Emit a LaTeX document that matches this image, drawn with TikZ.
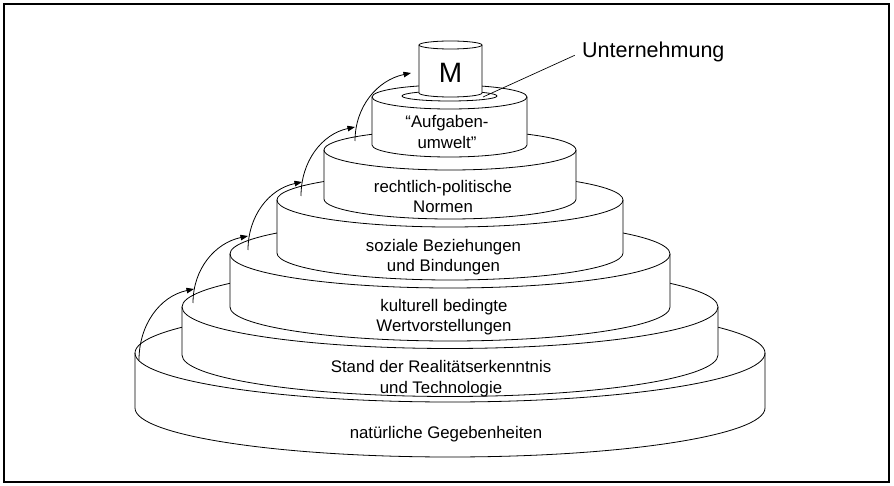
\documentclass[tikz,border=0pt]{standalone}
\usepackage{fontspec}
\setmainfont{Liberation Sans}
\usetikzlibrary{arrows.meta}

% one stacked disc: centre x, top level, bottom level, half width, half depth
\newcommand\disc[5]{%
  \fill[white] (#1-#4,#2) -- (#1-#4,#3)
    arc[start angle=180,end angle=360,x radius=#4pt,y radius=#5pt]
    -- (#1+#4,#2)
    arc[start angle=0,end angle=180,x radius=#4pt,y radius=#5pt] -- cycle;
  \draw[rim] (#1-#4,#2) -- (#1-#4,#3)
    arc[start angle=180,end angle=360,x radius=#4pt,y radius=#5pt]
    -- (#1+#4,#2);
  \draw[rim] (#1,#2) ellipse[x radius=#4pt,y radius=#5pt];
}

\begin{document}
\begin{tikzpicture}[x=1pt,y=-1pt,
  rim/.style={line width=0.8pt,line join=round},
  label/.style={inner sep=0pt,align=center,font=\fontsize{16.8}{20.5}\selectfont},
  climb/.style={line width=0.8pt,-{Triangle[length=7.5pt,width=5.5pt]}},
  frame/.style={line width=1.3pt}]
\useasboundingbox (0,0) rectangle (894,486);
\draw[frame] (4,4) rectangle (889,482);

% discs, from the widest at the bottom upwards
\disc{450}{353}{408}{315}{49}
\disc{450}{307}{355}{268}{41.5}
\disc{450}{254}{307}{220}{34}
\disc{450}{200}{253}{173}{27}
\disc{450}{150}{199}{126}{20}
\disc{449.5}{97}{145}{77.5}{12}

% enterprise area on the top disc and the M cylinder
\draw[rim] (449.5,96) ellipse[x radius=47.5pt,y radius=5pt];
\disc{450.5}{45}{93}{31.5}{4}

% labels
\node (m) at (450.5,73) {\fontsize{28}{30}\selectfont M};
\node[label] (t6) at (447,132) {“Aufgaben-\\umwelt”};
\node[label] (t5) at (443,196.5) {rechtlich-politische\\Normen};
\node[label] (t4) at (443.5,257) {soziale Beziehungen\\und Bindungen};
\node[label] (t3) at (444,317) {kulturell bedingte\\Wertvorstellungen};
\node[label] (t2) at (441,378.5) {Stand der Realitätserkenntnis\\und Technologie};
\node[label] (t1) at (446,434) {natürliche Gegebenheiten};

% pointer to the enterprise area
\coordinate (u0) at (483,97);
\node[anchor=west,inner sep=0pt,font=\fontsize{21.5}{24}\selectfont] (ut) at (582,52) {Unternehmung};
\draw[line width=0.7pt,shorten >=8pt] (u0) -- (ut.west);

% arrows climbing from disc to disc
\coordinate (a0) at (139,360);
\coordinate (h1) at (194,289); \coordinate (s1) at (193,303);
\coordinate (h2) at (248,236); \coordinate (s2) at (248,250);
\coordinate (h3) at (302,182); \coordinate (s3) at (301,196);
\coordinate (h4) at (355,127); \coordinate (s4) at (355,141);
\coordinate (h5) at (411,73);
\draw[climb] (a0) to[out=90,in=192] (h1);
\draw[climb] (s1) to[out=90,in=192] (h2);
\draw[climb] (s2) to[out=90,in=192] (h3);
\draw[climb] (s3) to[out=90,in=192] (h4);
\draw[climb] (s4) to[out=90,in=192] (h5);
\end{tikzpicture}
\end{document}
